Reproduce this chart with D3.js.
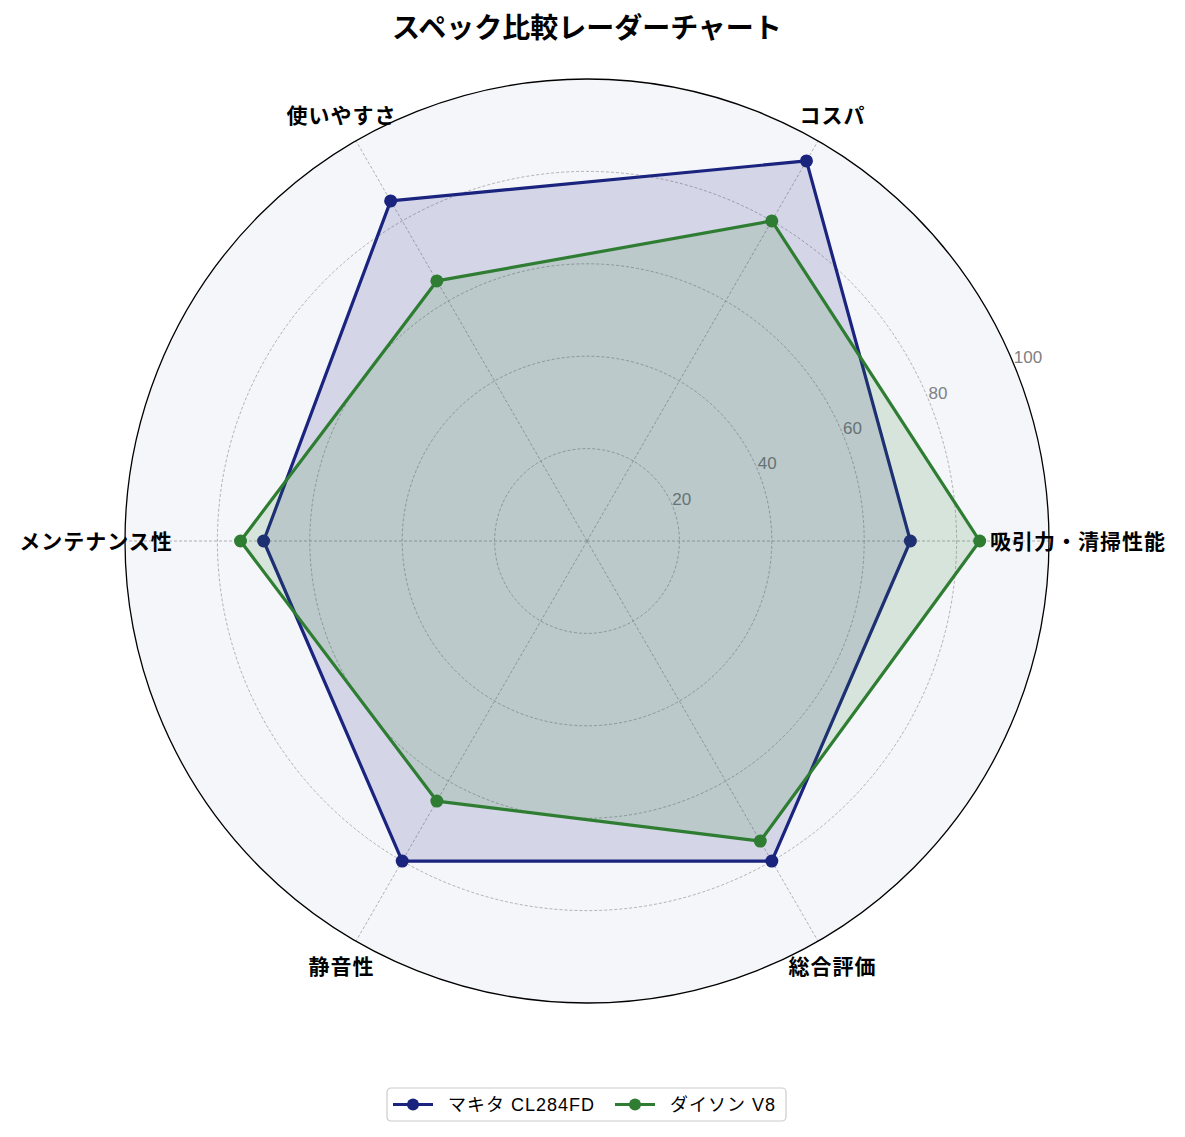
<!DOCTYPE html>
<html>
<head>
<meta charset="utf-8">
<script src="https://cdn.jsdelivr.net/npm/d3@7"></script>
<style>
  body { margin: 0; background: #fff; }
  text { font-family: "Liberation Sans", "Noto Sans CJK JP", sans-serif; }
</style>
</head>
<body>
<div class="content"></div>
<script>
const categories = ['吸引力・清掃性能', 'コスパ', '使いやすさ', 'メンテナンス性', '静音性', '総合評価']
const makita = [70, 95, 85, 70, 80, 80]
const dyson = [85, 80, 65, 75, 65, 75]
const seriesNames = ['マキタ CL284FD', 'ダイソン V8']
const seriesColors = ['#1a237e', '#2e7d32']
const ticks = [20, 40, 60, 80, 100]

const width = 1185
const height = 1137
const cx = 587
const cy = 541
const outer = 462

const svg = d3.select('div.content')
    .append('svg')
    .attr('width', width)
    .attr('height', height)

const r = d3.scaleLinear().domain([0, 100]).range([0, outer])
// angle in d3 convention (clockwise from 12 o'clock); category 0 sits at 3 o'clock, going counterclockwise
const ang = d3.scaleLinear().domain([0, categories.length]).range([Math.PI / 2, Math.PI / 2 - 2 * Math.PI])

const g = svg.append('g').attr('transform', `translate(${cx},${cy})`)

g.append('circle').attr('r', outer).attr('fill', '#f5f6fa')

// grid circles
g.selectAll('circle.grid')
    .data(ticks.slice(0, -1))
    .join('circle')
    .attr('class', 'grid')
    .attr('r', d => r(d))
    .attr('fill', 'none')
    .attr('stroke', '#a0a0a0')
    .attr('stroke-width', 0.8)
    .attr('stroke-dasharray', '3,2')

// spokes
g.selectAll('line.spoke')
    .data(categories)
    .join('line')
    .attr('class', 'spoke')
    .attr('x1', 0).attr('y1', 0)
    .attr('x2', (d, i) => outer * Math.sin(ang(i)))
    .attr('y2', (d, i) => -outer * Math.cos(ang(i)))
    .attr('stroke', '#a0a0a0')
    .attr('stroke-width', 0.8)
    .attr('stroke-dasharray', '3,2')

// radial tick labels at 22.5 deg
const la = Math.PI / 2 - Math.PI / 8
g.selectAll('text.rtick')
    .data(ticks)
    .join('text')
    .attr('class', 'rtick')
    .attr('x', d => r(d) * Math.sin(la))
    .attr('y', d => -r(d) * Math.cos(la) - 1)
    .attr('font-size', 17)
    .attr('fill', '#808080')
    .text(d => d)

const radial = d3.lineRadial()
    .angle((d, i) => ang(i))
    .radius(d => r(d))
    .curve(d3.curveLinearClosed)

;[makita, dyson].forEach((vals, k) => {
  g.append('path')
      .attr('d', radial(vals))
      .attr('fill', seriesColors[k])
      .attr('fill-opacity', 0.15)
      .attr('stroke', seriesColors[k])
      .attr('stroke-width', 3.2)
      .attr('stroke-linejoin', 'round')
  g.selectAll('circle.pt' + k)
      .data(vals)
      .join('circle')
      .attr('class', 'pt' + k)
      .attr('cx', (d, i) => r(d) * Math.sin(ang(i)))
      .attr('cy', (d, i) => -r(d) * Math.cos(ang(i)))
      .attr('r', 6.5)
      .attr('fill', seriesColors[k])
})

g.append('circle').attr('r', outer).attr('fill', 'none').attr('stroke', '#000').attr('stroke-width', 1.3)

// category labels
g.selectAll('text.cat')
    .data(categories)
    .join('text')
    .attr('class', 'cat')
    .attr('x', (d, i) => 491 * Math.sin(ang(i)))
    .attr('y', (d, i) => -491 * Math.cos(ang(i)))
    .attr('text-anchor', 'middle')
    .attr('dominant-baseline', 'central')
    .attr('font-size', 21)
    .attr('letter-spacing', 1)
    .attr('font-weight', 'bold')
    .attr('fill', '#000')
    .text(d => d)

svg.append('text')
    .attr('x', cx)
    .attr('y', 28)
    .attr('text-anchor', 'middle')
    .attr('dominant-baseline', 'central')
    .attr('font-size', 28)
    .attr('font-weight', 'bold')
    .text('スペック比較レーダーチャート')

// legend
const legend = svg.append('g').attr('transform', 'translate(387,1088)')
legend.append('rect')
    .attr('width', 399).attr('height', 33)
    .attr('rx', 4)
    .attr('fill', '#fff')
    .attr('stroke', '#cccccc')
    .attr('stroke-width', 1.2)
const itemX = [6, 228]
seriesNames.forEach((name, k) => {
  const it = legend.append('g').attr('transform', `translate(${itemX[k]},16.5)`)
  it.append('line').attr('x1', 0).attr('x2', 40).attr('stroke', seriesColors[k]).attr('stroke-width', 3)
  it.append('circle').attr('cx', 20).attr('r', 6).attr('fill', seriesColors[k])
  it.append('text')
      .attr('x', 55)
      .attr('dominant-baseline', 'central')
      .attr('font-size', 18)
      .attr('letter-spacing', 1)
      .text(name)
})
</script>
</body>
</html>
